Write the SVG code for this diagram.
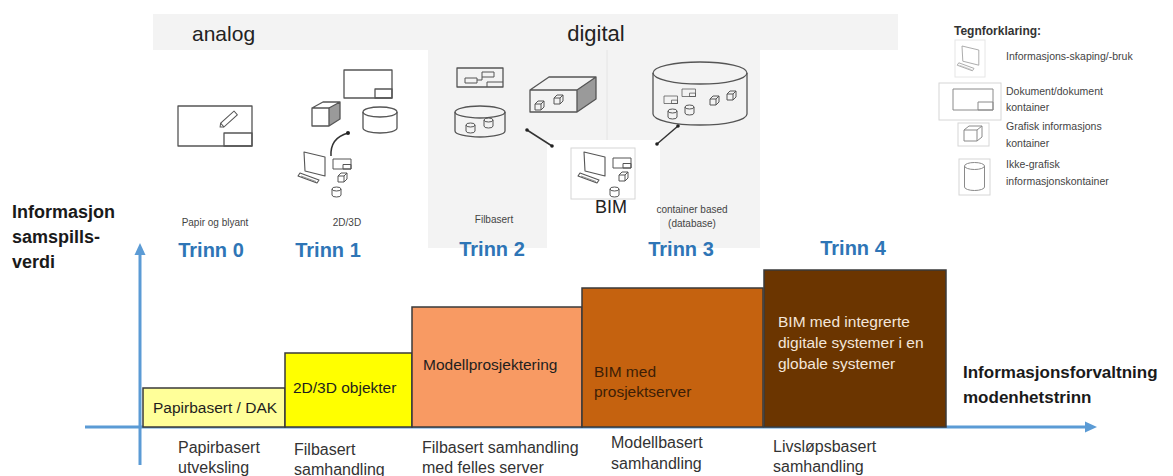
<svg xmlns="http://www.w3.org/2000/svg" xmlns:xlink="http://www.w3.org/1999/xlink" width="1173" height="476" viewBox="0 0 1173 476">
  <style>
    text { font-family: "Liberation Sans", Arial, sans-serif; }
    .ic { fill: none; stroke: #555; stroke-width: 1.3; stroke-linejoin: round; }
    .icl { fill: none; stroke: #8a8a8a; stroke-width: 1; stroke-linejoin: round; }
    .frame { fill: #fff; stroke: #d6d6d6; stroke-width: 1; }
    .bar { stroke: #3a3a3a; stroke-width: 1.5; }
    .trinn { font-size: 20px; font-weight: bold; fill: #2e75b6; text-anchor: middle; }
    .small { font-size: 10px; fill: #444; text-anchor: middle; }
    .bartxt { font-size: 15.5px; fill: #1e1e1e; }
    .bartxt.mid { fill: #3d1e06; }
    .bartxt.light { fill: #f3e6da; }
    .foot { font-size: 16px; fill: #333; }
    .axislbl { font-size: 17px; font-weight: bold; fill: #1a1a1a; }
    .axislbl.big { font-size: 18px; }
    .leg { font-size: 10.5px; fill: #444; }
    .axis { stroke: #5b9bd5; stroke-width: 3; fill: none; }
    .link { stroke: #333; stroke-width: 1.5; fill: none; }
  </style>
  <defs>
    <!-- small graphic container (cube) -->
    <g id="cubeS" class="ic" style="stroke-width:1">
      <path d="M0,3 H6 V9 H0 Z M0,3 L3,0 H9 L6,3 M6,9 L9,6 V0"/>
    </g>
    <!-- small non-graphic container (cylinder) -->
    <g id="cylS" class="ic" style="stroke-width:1">
      <ellipse cx="4.5" cy="2" rx="4.5" ry="2"/>
      <path d="M0,2 V8 A4.5,2 0 0 0 9,8 V2"/>
    </g>
    <!-- small document -->
    <g id="docS" class="ic" style="stroke-width:1">
      <rect x="0" y="0" width="18" height="10"/>
      <rect x="10" y="5.5" width="8" height="4.5"/>
    </g>
    <!-- workstation: monitor and keyboard -->
    <g id="pc" class="ic" style="stroke-width:1.1">
      <path d="M0,0 L21,5 L21,24 L1,19 Z"/>
      <path d="M-4,21 L15,28 L13,31 L-6,24 Z"/>
      <path d="M-3,24 L12,29.5" style="stroke-width:0.6"/>
    </g>
    <!-- large cylinder -->
    <g id="cylM" class="ic">
      <ellipse cx="17" cy="5" rx="17" ry="5"/>
      <path d="M0,5 V21 A17,5 0 0 0 34,21 V5"/>
    </g>
  </defs>

  <!-- grey backdrop for the analog / digital bands -->
  <g id="backdrop">
    <rect x="153" y="14" width="745" height="36" fill="#f3f3f3"/>
    <path d="M428,50 H760 V248 H660 V140 H547 V248 H428 Z" fill="#f3f3f3"/>
    <line x1="607" y1="50" x2="607" y2="140" stroke="#e4e4e4" stroke-width="1"/>
    <text x="192" y="41" font-size="21" fill="#222">analog</text>
    <text x="596" y="41" font-size="22" fill="#222" text-anchor="middle">digital</text>
  </g>

  <!-- Trinn 0: paper and pencil -->
  <g id="stage0-icon">
    <rect class="ic" x="178" y="106" width="74" height="40"/>
    <rect class="ic" x="224" y="133" width="28" height="13"/>
    <g transform="translate(229,119) rotate(-42)">
      <rect class="ic" x="-9" y="-2.5" width="18" height="5" style="stroke-width:1"/>
      <path class="ic" d="M-9,-2.5 L-12,0 L-9,2.5" style="stroke-width:1"/>
    </g>
    <text class="small" x="215" y="226">Papir og blyant</text>
  </g>

  <!-- Trinn 1: 2D/3D -->
  <g id="stage1-icon">
    <rect class="ic" x="344" y="70" width="48" height="28"/>
    <rect class="ic" x="375" y="89" width="17" height="9"/>
    <path d="M329,108 L340,102 V119 L329,126 Z" fill="#9a9a9a"/>
    <path class="ic" d="M312,108 H329 V126 H312 Z M312,108 L323,102 H340 L329,108 M329,126 L340,119 V102"/>
    <use xlink:href="#cylM" transform="translate(363,107)"/>
    <use xlink:href="#pc" transform="translate(304,152)"/>
    <use xlink:href="#docS" transform="translate(333,159)"/>
    <use xlink:href="#cubeS" transform="translate(338,173)"/>
    <use xlink:href="#cylS" transform="translate(332,187)"/>
    <text class="small" x="347" y="226">2D/3D</text>
  </g>

  <!-- Trinn 2: file based -->
  <g id="stage2-icon">
    <rect class="ic" x="457" y="68" width="46" height="19"/>
    <rect class="ic" x="465" y="78" width="12" height="5" style="stroke-width:1"/>
    <rect class="ic" x="482" y="72" width="12" height="5" style="stroke-width:1"/>
    <path class="ic" d="M477,80 H482 V77 M487,87 V82 H503" style="stroke-width:1"/>
    <g class="ic">
      <ellipse cx="480" cy="112" rx="25" ry="6"/>
      <path d="M455,112 V131 A25,6 0 0 0 505,131 V112"/>
    </g>
    <use xlink:href="#cylS" transform="translate(466,123)"/>
    <use xlink:href="#cylS" transform="translate(484,118)"/>
    <path d="M577,90 L596,77 V99 L577,112 Z" fill="#9a9a9a"/>
    <path class="ic" d="M530,90 H577 V112 H530 Z M530,90 L549,77 H596 L577,90 M577,112 L596,99 V77"/>
    <use xlink:href="#cubeS" transform="translate(535,101)"/>
    <use xlink:href="#cubeS" transform="translate(554,95)"/>
    <text class="small" x="494" y="223">Filbasert</text>
  </g>

  <!-- BIM workstation -->
  <g id="bim-node">
    <rect class="frame" x="571" y="148" width="64" height="51"/>
    <use xlink:href="#pc" transform="translate(584,152)"/>
    <use xlink:href="#docS" transform="translate(613,158)"/>
    <use xlink:href="#cubeS" transform="translate(619,172)"/>
    <use xlink:href="#cylS" transform="translate(610,187)"/>
    <text x="611" y="213" font-size="18" fill="#222" text-anchor="middle">BIM</text>
  </g>

  <!-- Trinn 3: container based database -->
  <g id="stage3-icon">
    <g class="ic">
      <ellipse cx="700" cy="73" rx="47" ry="11"/>
      <path d="M653,73 V114 A47,11 0 0 0 747,114 V73"/>
    </g>
    <use xlink:href="#docS" transform="translate(664,96) scale(0.75)"/>
    <use xlink:href="#docS" transform="translate(682,89) scale(0.75)"/>
    <use xlink:href="#cylS" transform="translate(668,109)"/>
    <use xlink:href="#cylS" transform="translate(685,105)"/>
    <use xlink:href="#cubeS" transform="translate(710,96)"/>
    <use xlink:href="#cubeS" transform="translate(727,91)"/>
    <text class="small" x="692" y="213">container based</text>
    <text class="small" x="692" y="227">(database)</text>
  </g>

  <!-- connectors between icons -->
  <g id="connectors">
    <path class="link" d="M331,156 Q330,138 348,133"/>
    <circle cx="348" cy="133" r="2" fill="#222"/>
    <line class="link" x1="527" y1="130" x2="552" y2="146"/>
    <circle cx="527" cy="130" r="1.8" fill="#222"/>
    <circle cx="552" cy="146" r="1.8" fill="#222"/>
    <line class="link" x1="678" y1="126" x2="657" y2="144"/>
    <circle cx="678" cy="126" r="1.8" fill="#222"/>
    <circle cx="657" cy="144" r="1.8" fill="#222"/>
  </g>

  <!-- legend -->
  <g id="legend">
    <text x="954" y="35" font-size="12" font-weight="bold" fill="#333">Tegnforklaring:</text>
    <rect class="frame" x="955" y="40" width="30" height="37" style="stroke:#e6e6e6"/>
    <use xlink:href="#pc" transform="translate(962,46) scale(0.8)" style="opacity:0.55"/>
    <text class="leg" x="1006" y="60">Informasjons-skaping/-bruk</text>
    <rect class="frame" x="939" y="83" width="62" height="37"/>
    <rect class="icl" x="953" y="89" width="40" height="21"/>
    <rect class="icl" x="978" y="102" width="15" height="8"/>
    <text class="leg" x="1006" y="95">Dokument/dokument</text>
    <text class="leg" x="1006" y="111">kontainer</text>
    <rect class="frame" x="958" y="123" width="31" height="23"/>
    <path class="icl" d="M964,130 H977 V141 H964 Z M964,130 L969,126 H982 L977,130 M977,141 L982,137 V126"/>
    <text class="leg" x="1006" y="130">Grafisk informasjons</text>
    <text class="leg" x="1006" y="147">kontainer</text>
    <rect class="frame" x="959" y="159" width="31" height="36"/>
    <ellipse class="icl" cx="974.5" cy="166" rx="10" ry="3.5"/>
    <path class="icl" d="M964.5,166 V187 A10,3.5 0 0 0 984.5,187 V166"/>
    <text class="leg" x="1006" y="168">Ikke-grafisk</text>
    <text class="leg" x="1006" y="185">informasjonskontainer</text>
  </g>

  <!-- stage headings -->
  <g id="stage-labels">
    <text class="trinn" x="211" y="257">Trinn 0</text>
    <text class="trinn" x="328" y="257">Trinn 1</text>
    <text class="trinn" x="492" y="256">Trinn 2</text>
    <text class="trinn" x="681" y="256">Trinn 3</text>
    <text class="trinn" x="853" y="255">Trinn 4</text>
  </g>

  <!-- axes -->
  <g id="axes">
    <line class="axis" x1="85" y1="427" x2="1087" y2="427"/>
    <polygon points="1097,427 1085,421.5 1085,432.5" fill="#5b9bd5"/>
    <line class="axis" x1="140" y1="465" x2="140" y2="253"/>
    <polygon points="140,243 134.5,255 145.5,255" fill="#5b9bd5"/>
    <text class="axislbl big" x="12" y="218">Informasjon</text>
    <text class="axislbl big" x="12" y="243">samspills-</text>
    <text class="axislbl big" x="12" y="268">verdi</text>
    <text class="axislbl" x="963" y="378">Informasjonsforvaltning</text>
    <text class="axislbl" x="963" y="403">modenhetstrinn</text>
  </g>

  <!-- maturity steps -->
  <g id="step0">
    <rect class="bar" x="143" y="388" width="142" height="39" fill="#ffff99"/>
    <text class="bartxt" x="153" y="413">Papirbasert / DAK</text>
  </g>
  <g id="step1">
    <rect class="bar" x="285" y="353" width="127" height="74" fill="#ffff00"/>
    <text class="bartxt" x="293" y="393">2D/3D objekter</text>
  </g>
  <g id="step2">
    <rect class="bar" x="412" y="307" width="170" height="120" fill="#f89a63"/>
    <text class="bartxt" x="423" y="370">Modellprosjektering</text>
  </g>
  <g id="step3">
    <rect class="bar" x="582" y="288" width="181" height="139" fill="#c5620f"/>
    <text class="bartxt mid" x="594" y="377">BIM med</text>
    <text class="bartxt mid" x="594" y="397">prosjektserver</text>
  </g>
  <g id="step4">
    <rect class="bar" x="764" y="270" width="182" height="157" fill="#6b3500"/>
    <text class="bartxt light" x="778" y="327">BIM med integrerte</text>
    <text class="bartxt light" x="778" y="348">digitale systemer i en</text>
    <text class="bartxt light" x="778" y="369">globale systemer</text>
  </g>

  <!-- collaboration forms under the axis -->
  <g id="collaboration-labels">
    <text class="foot" x="178" y="453">Papirbasert</text>
    <text class="foot" x="178" y="473">utveksling</text>
    <text class="foot" x="294" y="455">Filbasert</text>
    <text class="foot" x="294" y="475">samhandling</text>
    <text class="foot" x="422" y="453">Filbasert samhandling</text>
    <text class="foot" x="422" y="473">med felles server</text>
    <text class="foot" x="611" y="448">Modellbasert</text>
    <text class="foot" x="611" y="469">samhandling</text>
    <text class="foot" x="773" y="452">Livsløpsbasert</text>
    <text class="foot" x="773" y="472">samhandling</text>
  </g>
</svg>
